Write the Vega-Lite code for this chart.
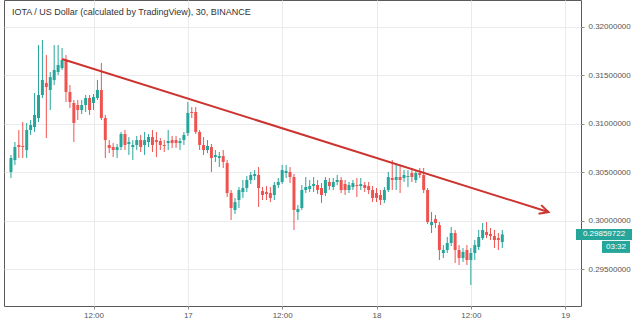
{
  "$schema": "https://vega.github.io/schema/vega-lite/v6.json",
  "width": 577,
  "height": 306,
  "autosize": {"type": "none"},
  "padding": {"left": 4, "top": 0, "right": 59, "bottom": 16},
  "background": "#ffffff",
  "config": {
    "view": {"stroke": "#5a5a5a", "strokeWidth": 1},
    "font": "Liberation Sans"
  },
  "title": {
    "text": "IOTA / US Dollar (calculated by TradingView), 30, BINANCE",
    "anchor": "start",
    "frame": "group",
    "orient": "top",
    "offset": -17,
    "dx": 8,
    "fontSize": 9,
    "fontWeight": "normal",
    "color": "#333333",
    "font": "Liberation Sans"
  },
  "datasets": {
    "candles": [
      {"t":1.5,"o":0.30503,"h":0.30678,"l":0.30441,"c":0.30647},
      {"t":2.0,"o":0.30626,"h":0.30812,"l":0.30575,"c":0.30760},
      {"t":2.5,"o":0.30781,"h":0.30935,"l":0.30647,"c":0.30760},
      {"t":3.0,"o":0.30771,"h":0.31018,"l":0.30647,"c":0.30760},
      {"t":3.5,"o":0.30729,"h":0.31008,"l":0.30647,"c":0.30935},
      {"t":4.0,"o":0.30935,"h":0.31038,"l":0.30884,"c":0.30987},
      {"t":4.5,"o":0.30966,"h":0.31317,"l":0.30915,"c":0.31090},
      {"t":5.0,"o":0.31059,"h":0.31811,"l":0.31018,"c":0.31296},
      {"t":5.5,"o":0.31296,"h":0.31863,"l":0.31265,"c":0.31451},
      {"t":6.0,"o":0.31420,"h":0.31708,"l":0.30853,"c":0.31378},
      {"t":6.5,"o":0.31348,"h":0.31533,"l":0.31141,"c":0.31481},
      {"t":7.0,"o":0.31451,"h":0.31811,"l":0.31399,"c":0.31554},
      {"t":7.5,"o":0.31533,"h":0.31811,"l":0.31502,"c":0.31605},
      {"t":8.0,"o":0.31574,"h":0.31780,"l":0.31554,"c":0.31657},
      {"t":8.5,"o":0.31657,"h":0.31708,"l":0.31224,"c":0.31327},
      {"t":9.0,"o":0.31327,"h":0.31399,"l":0.31162,"c":0.31224},
      {"t":9.5,"o":0.31214,"h":0.31245,"l":0.30812,"c":0.31008},
      {"t":10.0,"o":0.31193,"h":0.31245,"l":0.31038,"c":0.31141},
      {"t":10.5,"o":0.31141,"h":0.31245,"l":0.31100,"c":0.31193},
      {"t":11.0,"o":0.31193,"h":0.31296,"l":0.31121,"c":0.31265},
      {"t":11.5,"o":0.31265,"h":0.31296,"l":0.31090,"c":0.31141},
      {"t":12.0,"o":0.31214,"h":0.31306,"l":0.31141,"c":0.31275},
      {"t":12.5,"o":0.31265,"h":0.31451,"l":0.31245,"c":0.31348},
      {"t":13.0,"o":0.31348,"h":0.31626,"l":0.31038,"c":0.31059},
      {"t":13.5,"o":0.31059,"h":0.31090,"l":0.30647,"c":0.30832},
      {"t":14.0,"o":0.30781,"h":0.30832,"l":0.30698,"c":0.30750},
      {"t":14.5,"o":0.30760,"h":0.30801,"l":0.30657,"c":0.30729},
      {"t":15.0,"o":0.30729,"h":0.30791,"l":0.30647,"c":0.30760},
      {"t":15.5,"o":0.30760,"h":0.30915,"l":0.30729,"c":0.30894},
      {"t":16.0,"o":0.30894,"h":0.30935,"l":0.30729,"c":0.30781},
      {"t":16.5,"o":0.30791,"h":0.30863,"l":0.30678,"c":0.30812},
      {"t":17.0,"o":0.30760,"h":0.30832,"l":0.30626,"c":0.30781},
      {"t":17.5,"o":0.30781,"h":0.30874,"l":0.30729,"c":0.30832},
      {"t":18.0,"o":0.30832,"h":0.30884,"l":0.30709,"c":0.30760},
      {"t":18.5,"o":0.30781,"h":0.30915,"l":0.30678,"c":0.30832},
      {"t":19.0,"o":0.30812,"h":0.30894,"l":0.30760,"c":0.30863},
      {"t":19.5,"o":0.30863,"h":0.30935,"l":0.30709,"c":0.30781},
      {"t":20.0,"o":0.30832,"h":0.30915,"l":0.30657,"c":0.30812},
      {"t":20.5,"o":0.30822,"h":0.30853,"l":0.30729,"c":0.30781},
      {"t":21.0,"o":0.30781,"h":0.30832,"l":0.30709,"c":0.30771},
      {"t":21.5,"o":0.30801,"h":0.30935,"l":0.30729,"c":0.30822},
      {"t":22.0,"o":0.30832,"h":0.30874,"l":0.30750,"c":0.30801},
      {"t":22.5,"o":0.30832,"h":0.30874,"l":0.30750,"c":0.30801},
      {"t":23.0,"o":0.30801,"h":0.30853,"l":0.30729,"c":0.30822},
      {"t":23.5,"o":0.30832,"h":0.30915,"l":0.30781,"c":0.30884},
      {"t":24.0,"o":0.30904,"h":0.31224,"l":0.30874,"c":0.31111},
      {"t":24.5,"o":0.31121,"h":0.31172,"l":0.31059,"c":0.31111},
      {"t":25.0,"o":0.31121,"h":0.31172,"l":0.30894,"c":0.30915},
      {"t":25.5,"o":0.30915,"h":0.30935,"l":0.30729,"c":0.30781},
      {"t":26.0,"o":0.30781,"h":0.30863,"l":0.30678,"c":0.30729},
      {"t":26.5,"o":0.30729,"h":0.30832,"l":0.30698,"c":0.30771},
      {"t":27.0,"o":0.30760,"h":0.30791,"l":0.30503,"c":0.30647},
      {"t":27.5,"o":0.30657,"h":0.30729,"l":0.30606,"c":0.30678},
      {"t":28.0,"o":0.30647,"h":0.30709,"l":0.30554,"c":0.30667},
      {"t":28.5,"o":0.30667,"h":0.30729,"l":0.30544,"c":0.30606},
      {"t":29.0,"o":0.30595,"h":0.30626,"l":0.30245,"c":0.30286},
      {"t":29.5,"o":0.30286,"h":0.30317,"l":0.30008,"c":0.30132},
      {"t":30.0,"o":0.30111,"h":0.30235,"l":0.30070,"c":0.30193},
      {"t":30.5,"o":0.30214,"h":0.30348,"l":0.30132,"c":0.30317},
      {"t":31.0,"o":0.30296,"h":0.30420,"l":0.30235,"c":0.30338},
      {"t":31.5,"o":0.30338,"h":0.30461,"l":0.30296,"c":0.30420},
      {"t":32.0,"o":0.30420,"h":0.30503,"l":0.30379,"c":0.30472},
      {"t":32.5,"o":0.30461,"h":0.30523,"l":0.30420,"c":0.30482},
      {"t":33.0,"o":0.30472,"h":0.30554,"l":0.30142,"c":0.30338},
      {"t":33.5,"o":0.30307,"h":0.30348,"l":0.30214,"c":0.30266},
      {"t":34.0,"o":0.30296,"h":0.30358,"l":0.30214,"c":0.30276},
      {"t":34.5,"o":0.30286,"h":0.30348,"l":0.30193,"c":0.30235},
      {"t":35.0,"o":0.30266,"h":0.30400,"l":0.30214,"c":0.30369},
      {"t":35.5,"o":0.30369,"h":0.30441,"l":0.30338,"c":0.30400},
      {"t":36.0,"o":0.30400,"h":0.30575,"l":0.30379,"c":0.30523},
      {"t":36.5,"o":0.30492,"h":0.30575,"l":0.30441,"c":0.30513},
      {"t":37.0,"o":0.30503,"h":0.30554,"l":0.30389,"c":0.30451},
      {"t":37.5,"o":0.30451,"h":0.30482,"l":0.29905,"c":0.30111},
      {"t":38.0,"o":0.30090,"h":0.30163,"l":0.30008,"c":0.30121},
      {"t":38.5,"o":0.30132,"h":0.30369,"l":0.30111,"c":0.30317},
      {"t":39.0,"o":0.30317,"h":0.30451,"l":0.30286,"c":0.30348},
      {"t":39.5,"o":0.30327,"h":0.30420,"l":0.30296,"c":0.30358},
      {"t":40.0,"o":0.30358,"h":0.30451,"l":0.30296,"c":0.30379},
      {"t":40.5,"o":0.30369,"h":0.30420,"l":0.30276,"c":0.30317},
      {"t":41.0,"o":0.30338,"h":0.30389,"l":0.30183,"c":0.30266},
      {"t":41.5,"o":0.30286,"h":0.30451,"l":0.30255,"c":0.30420},
      {"t":42.0,"o":0.30400,"h":0.30441,"l":0.30317,"c":0.30358},
      {"t":42.5,"o":0.30348,"h":0.30441,"l":0.30317,"c":0.30400},
      {"t":43.0,"o":0.30400,"h":0.30472,"l":0.30369,"c":0.30420},
      {"t":43.5,"o":0.30420,"h":0.30451,"l":0.30286,"c":0.30317},
      {"t":44.0,"o":0.30379,"h":0.30420,"l":0.30266,"c":0.30317},
      {"t":44.5,"o":0.30317,"h":0.30400,"l":0.30286,"c":0.30369},
      {"t":45.0,"o":0.30348,"h":0.30420,"l":0.30317,"c":0.30389},
      {"t":45.5,"o":0.30369,"h":0.30441,"l":0.30245,"c":0.30358},
      {"t":46.0,"o":0.30358,"h":0.30441,"l":0.30317,"c":0.30379},
      {"t":46.5,"o":0.30369,"h":0.30400,"l":0.30296,"c":0.30338},
      {"t":47.0,"o":0.30358,"h":0.30400,"l":0.30276,"c":0.30317},
      {"t":47.5,"o":0.30317,"h":0.30358,"l":0.30193,"c":0.30235},
      {"t":48.0,"o":0.30286,"h":0.30338,"l":0.30193,"c":0.30235},
      {"t":48.5,"o":0.30266,"h":0.30317,"l":0.30163,"c":0.30214},
      {"t":49.0,"o":0.30214,"h":0.30348,"l":0.30183,"c":0.30317},
      {"t":49.5,"o":0.30317,"h":0.30503,"l":0.30296,"c":0.30451},
      {"t":50.0,"o":0.30441,"h":0.30626,"l":0.30317,"c":0.30420},
      {"t":50.5,"o":0.30420,"h":0.30595,"l":0.30317,"c":0.30451},
      {"t":51.0,"o":0.30451,"h":0.30575,"l":0.30286,"c":0.30420},
      {"t":51.5,"o":0.30441,"h":0.30523,"l":0.30400,"c":0.30472},
      {"t":52.0,"o":0.30451,"h":0.30523,"l":0.30348,"c":0.30461},
      {"t":52.5,"o":0.30492,"h":0.30544,"l":0.30400,"c":0.30451},
      {"t":53.0,"o":0.30420,"h":0.30523,"l":0.30389,"c":0.30492},
      {"t":53.5,"o":0.30492,"h":0.30544,"l":0.30441,"c":0.30472},
      {"t":54.0,"o":0.30472,"h":0.30544,"l":0.30286,"c":0.30317},
      {"t":54.5,"o":0.30317,"h":0.30338,"l":0.29967,"c":0.29987},
      {"t":55.0,"o":0.29956,"h":0.30090,"l":0.29874,"c":0.29987},
      {"t":55.5,"o":0.30018,"h":0.30059,"l":0.29926,"c":0.29977},
      {"t":56.0,"o":0.29956,"h":0.29987,"l":0.29596,"c":0.29699},
      {"t":56.5,"o":0.29668,"h":0.29750,"l":0.29616,"c":0.29699},
      {"t":57.0,"o":0.29699,"h":0.29833,"l":0.29668,"c":0.29771},
      {"t":57.5,"o":0.29771,"h":0.29936,"l":0.29740,"c":0.29874},
      {"t":58.0,"o":0.29874,"h":0.29905,"l":0.29565,"c":0.29699},
      {"t":58.5,"o":0.29699,"h":0.29750,"l":0.29544,"c":0.29616},
      {"t":59.0,"o":0.29616,"h":0.29719,"l":0.29575,"c":0.29678},
      {"t":59.5,"o":0.29699,"h":0.29750,"l":0.29544,"c":0.29596},
      {"t":60.0,"o":0.29596,"h":0.29719,"l":0.29338,"c":0.29668},
      {"t":60.5,"o":0.29668,"h":0.29802,"l":0.29596,"c":0.29750},
      {"t":61.0,"o":0.29730,"h":0.29905,"l":0.29699,"c":0.29833},
      {"t":61.5,"o":0.29822,"h":0.29977,"l":0.29802,"c":0.29905},
      {"t":62.0,"o":0.29884,"h":0.29987,"l":0.29822,"c":0.29853},
      {"t":62.5,"o":0.29864,"h":0.29926,"l":0.29802,"c":0.29843},
      {"t":63.0,"o":0.29843,"h":0.29905,"l":0.29719,"c":0.29802},
      {"t":63.5,"o":0.29822,"h":0.29874,"l":0.29699,"c":0.29802},
      {"t":64.0,"o":0.29781,"h":0.29905,"l":0.29719,"c":0.29859722}
    ],
    "trend": [
      {"t": 8.0, "p": 0.31667},
      {"t": 69.875, "p": 0.30090}
    ]
  },
  "layer": [
    {
      "data": {"name": "candles"},
      "mark": {"type": "rule", "strokeWidth": 1},
      "encoding": {
        "x": {
          "field": "t", "type": "quantitative",
          "scale": {"domain": [1.25, 73.375], "nice": false, "zero": false},
          "axis": {
            "title": null,
            "values": [12, 24, 36, 48, 60, 72],
            "labelExpr": "datum.value % 24 == 0 ? toString(16 + datum.value / 24) : '12:00'",
            "grid": true, "gridColor": "#ebebeb", "gridWidth": 1,
            "domain": false,
            "ticks": true, "tickSize": 3, "tickColor": "#8a8a8a",
            "labelFontSize": 8, "labelColor": "#555555", "labelPadding": 2,
            "labelFont": "Liberation Sans"
          }
        },
        "y": {
          "field": "l", "type": "quantitative",
          "scale": {"domain": [0.29122, 0.32275], "nice": false, "zero": false},
          "axis": {
            "title": null,
            "orient": "right",
            "values": [0.295, 0.3, 0.305, 0.31, 0.315, 0.32],
            "format": ".8f",
            "grid": true, "gridColor": "#ebebeb", "gridWidth": 1,
            "domain": false,
            "ticks": true, "tickSize": 3, "tickColor": "#8a8a8a",
            "labelFontSize": 8, "labelColor": "#555555", "labelPadding": 4,
            "labelFont": "Liberation Sans"
          }
        },
        "y2": {"field": "h"},
        "color": {
          "condition": {"test": "datum.c >= datum.o", "value": "#26a69a"},
          "value": "#ef5350"
        }
      }
    },
    {
      "data": {"name": "candles"},
      "mark": {"type": "bar", "size": 3},
      "encoding": {
        "x": {"field": "t", "type": "quantitative"},
        "y": {"field": "o", "type": "quantitative"},
        "y2": {"field": "c"},
        "color": {
          "condition": {"test": "datum.c >= datum.o", "value": "#26a69a"},
          "value": "#ef5350"
        }
      }
    },
    {
      "data": {"name": "trend"},
      "mark": {"type": "line", "color": "#cc3430", "strokeWidth": 2},
      "encoding": {
        "x": {"field": "t", "type": "quantitative"},
        "y": {"field": "p", "type": "quantitative"}
      }
    },
    {
      "data": {"name": "trend"},
      "transform": [{"filter": "datum.t > 60"}],
      "mark": {"type": "point", "shape": "M-9,-4.5L0,0L-9,4.5", "filled": false, "size": 4, "angle": 17, "stroke": "#cc3430", "strokeWidth": 2, "opacity": 1},
      "encoding": {
        "x": {"field": "t", "type": "quantitative"},
        "y": {"field": "p", "type": "quantitative"}
      }
    },
    {
      "data": {"name": "candles"},
      "transform": [{"filter": "datum.t == 64"}],
      "layer": [
        {
          "mark": {"type": "point", "shape": "M0,-5.5L56,-5.5L56,5.5L0,5.5Z", "filled": true, "size": 4, "fill": "#26a69a", "strokeWidth": 0, "opacity": 1},
          "encoding": {
            "x": {"datum": 73.375, "type": "quantitative"},
            "y": {"field": "c", "type": "quantitative"}
          }
        },
        {
          "mark": {"type": "point", "shape": "M26,6.5L54,6.5L54,18.5L26,18.5Z", "filled": true, "size": 4, "fill": "#26a69a", "strokeWidth": 0, "opacity": 1},
          "encoding": {
            "x": {"datum": 73.375, "type": "quantitative"},
            "y": {"field": "c", "type": "quantitative"}
          }
        },
        {
          "mark": {"type": "text", "align": "center", "baseline": "middle", "dx": 28, "fontSize": 8, "color": "#ffffff", "font": "Liberation Sans"},
          "encoding": {
            "x": {"datum": 73.375, "type": "quantitative"},
            "y": {"field": "c", "type": "quantitative"},
            "text": {"field": "c", "type": "quantitative", "format": ".8f"}
          }
        },
        {
          "mark": {"type": "text", "align": "center", "baseline": "middle", "dx": 40, "dy": 12.5, "fontSize": 8, "color": "#ffffff", "font": "Liberation Sans", "text": "03:32"},
          "encoding": {
            "x": {"datum": 73.375, "type": "quantitative"},
            "y": {"field": "c", "type": "quantitative"}
          }
        }
      ]
    }
  ]
}
